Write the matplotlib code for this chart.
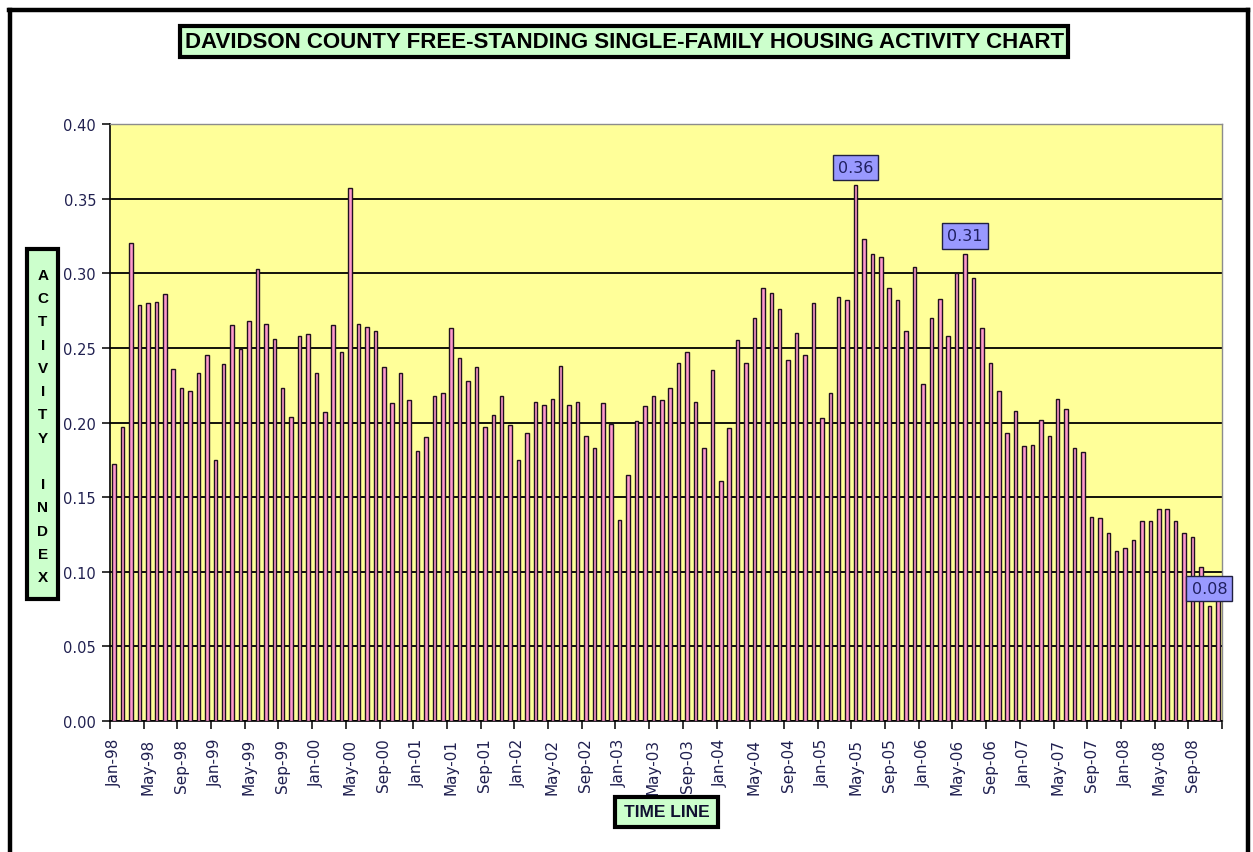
import matplotlib
matplotlib.use('Agg')
import matplotlib.pyplot as plt
from matplotlib.patches import Rectangle
from matplotlib.ticker import FixedLocator, FormatStrFormatter, NullFormatter
import numpy as np

# ---------------- data ----------------
month_names = ['Jan', 'Feb', 'Mar', 'Apr', 'May', 'Jun',
               'Jul', 'Aug', 'Sep', 'Oct', 'Nov', 'Dec']
years = ['98', '99', '00', '01', '02', '03', '04', '05', '06', '07', '08']
categories = [f"{m}-{y}" for y in years for m in month_names]

values_1998 = [0.172, 0.197, 0.320, 0.279, 0.280, 0.281, 0.286, 0.236, 0.223, 0.221, 0.233, 0.245]
values_1999 = [0.175, 0.239, 0.265, 0.249, 0.268, 0.303, 0.266, 0.256, 0.223, 0.204, 0.258, 0.259]
values_2000 = [0.233, 0.207, 0.265, 0.247, 0.357, 0.266, 0.264, 0.261, 0.237, 0.213, 0.233, 0.215]
values_2001 = [0.181, 0.190, 0.218, 0.220, 0.263, 0.243, 0.228, 0.237, 0.197, 0.205, 0.218, 0.198]
values_2002 = [0.175, 0.193, 0.214, 0.212, 0.216, 0.238, 0.212, 0.214, 0.191, 0.183, 0.213, 0.199]
values_2003 = [0.135, 0.165, 0.201, 0.211, 0.218, 0.215, 0.223, 0.240, 0.247, 0.214, 0.183, 0.235]
values_2004 = [0.161, 0.196, 0.255, 0.240, 0.270, 0.290, 0.287, 0.276, 0.242, 0.260, 0.245, 0.280]
values_2005 = [0.203, 0.220, 0.284, 0.282, 0.359, 0.323, 0.313, 0.311, 0.290, 0.282, 0.261, 0.304]
values_2006 = [0.226, 0.270, 0.283, 0.258, 0.300, 0.313, 0.297, 0.263, 0.240, 0.221, 0.193, 0.208]
values_2007 = [0.184, 0.185, 0.202, 0.191, 0.216, 0.209, 0.183, 0.180, 0.137, 0.136, 0.126, 0.114]
values_2008 = [0.116, 0.121, 0.134, 0.134, 0.142, 0.142, 0.134, 0.126, 0.123, 0.103, 0.077, 0.088]

values = (values_1998 + values_1999 + values_2000 + values_2001 + values_2002 +
          values_2003 + values_2004 + values_2005 + values_2006 + values_2007 + values_2008)

labelled_points = ['May-05', 'Jun-06', 'Nov-08']

title = 'DAVIDSON COUNTY FREE-STANDING SINGLE-FAMILY HOUSING ACTIVITY CHART'
y_title = 'ACTIVITY INDEX'
x_title = 'TIME LINE'

# ---------------- figure ----------------
W, H = 1253, 853
fig = plt.figure(figsize=(W / 100, H / 100), dpi=100)
fig.patch.set_facecolor('white')


def fx(px):
    return px / W


def fy(py):
    return 1 - py / H


def frect(x0, y0, x1, y1, **kw):
    r = Rectangle((fx(x0), fy(y1)), fx(x1) - fx(x0), fy(y0) - fy(y1),
                  transform=fig.transFigure, **kw)
    fig.patches.append(r)
    return r


# outer frame
fig.add_artist(plt.Line2D([fx(10), fx(10)], [fy(11), 0], transform=fig.transFigure,
                          color='black', lw=3.2))
fig.add_artist(plt.Line2D([fx(8.5), fx(1248)], [fy(11), fy(11)], transform=fig.transFigure,
                          color='black', lw=3.2))
fig.add_artist(plt.Line2D([fx(1248), fx(1248)], [fy(11), 0], transform=fig.transFigure,
                          color='black', lw=3.2))

# plot area
L, R, T, B = 110, 1222, 125, 722
ax = fig.add_axes([fx(L), fy(B), fx(R) - fx(L), fy(T) - fy(B)])
ax.set_facecolor('#FFFF99')

x = np.arange(len(values))
ax.bar(x, values, width=0.42, color='#FF99CC', edgecolor='#201020', linewidth=1.0, zorder=3)

ax.set_xlim(-0.5, len(values) - 0.5)
ax.set_ylim(0, 0.40)
ax.set_yticks(np.arange(0, 0.4001, 0.05))
ax.yaxis.set_major_formatter(FormatStrFormatter('%.2f'))
ax.yaxis.grid(True, color='black', linewidth=1.3, zorder=1)
ax.set_axisbelow(True)

for s in ['top', 'right']:
    ax.spines[s].set_color('#8c8c8c')
    ax.spines[s].set_linewidth(1.0)
for s in ['left', 'bottom']:
    ax.spines[s].set_color('black')
    ax.spines[s].set_linewidth(1.2)

ax.tick_params(axis='y', direction='out', length=6, width=1.1, color='black',
               labelsize=10.5, labelcolor='#202050', pad=4)

# x: boundary ticks every 4 months, labels centred on Jan/May/Sep
ax.xaxis.set_major_locator(FixedLocator(np.arange(-0.5, len(values), 4)))
ax.xaxis.set_major_formatter(NullFormatter())
label_pos = np.arange(0, len(values), 4)
ax.xaxis.set_minor_locator(FixedLocator(label_pos))
ax.set_xticklabels([categories[i] for i in label_pos], minor=True)
ax.tick_params(axis='x', which='major', direction='out', length=6, width=1.1, color='black')
ax.tick_params(axis='x', which='minor', length=0, labelsize=11, labelcolor='#202050',
               labelrotation=90, pad=12)

# data labels
for name in labelled_points:
    i = categories.index(name)
    v = values[i]
    ax.annotate(f"{v:.2f}", xy=(i, v), xytext=(0, 7.5), textcoords='offset points',
                ha='center', va='bottom', fontsize=11.5, color='#202060',
                annotation_clip=False, zorder=6,
                bbox=dict(boxstyle='square,pad=0.32', fc='#9999FF', ec='#202040', lw=1.0))

# title box
frect(180, 27, 1068, 58, fc='#CCFFCC', ec='black', lw=3, zorder=5)
fig.text(fx(625), fy(43), title, ha='center', va='center', fontsize=16.0,
         fontweight='bold', family='Liberation Sans', color='black', zorder=6)

# y title box
frect(27, 250, 58, 600, fc='#CCFFCC', ec='black', lw=3, zorder=5)
y_lines = '\n'.join(ch if ch != ' ' else '' for ch in y_title)
fig.text(fx(43), fy(427), y_lines, ha='center', va='center', fontsize=11,
         fontweight='bold', family='Liberation Sans', linespacing=1.84, zorder=6)

# x title box
frect(615, 798, 718, 828, fc='#CCFFCC', ec='black', lw=3, zorder=5)
fig.text(fx(666.5), fy(813), x_title, ha='center', va='center', fontsize=12.5,
         fontweight='bold', family='Liberation Sans', color='#101030', zorder=6)

fig.savefig('out.png', dpi=100, facecolor='white')
